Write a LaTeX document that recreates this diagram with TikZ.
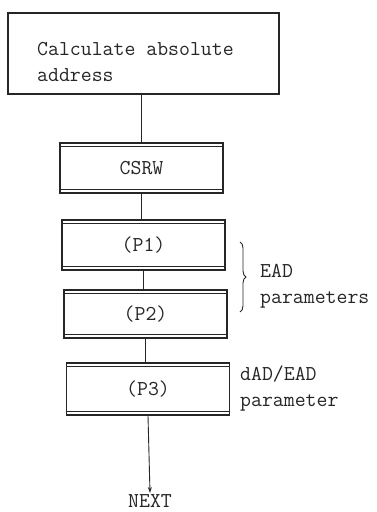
\documentclass[tikz,border=0pt]{standalone}
\usetikzlibrary{arrows.meta,decorations.pathreplacing}
\definecolor{ink}{gray}{0.15}
\begin{document}
\begin{tikzpicture}[x=1pt,y=-1pt,
  every node/.style={text=ink},
  txt/.style={font=\ttfamily\fontsize{21.2}{26}\selectfont},
  bigbox/.style={draw=ink,line width=1.6pt,minimum width=271pt,minimum height=81pt,inner sep=0pt},
  subbox/.style={draw=ink,line width=1.5pt,minimum width=163pt,minimum height=50pt,inner sep=0pt,txt,
    path picture={
      \draw[ink,line width=1pt] ([yshift=-3.5pt]path picture bounding box.north west) -- ([yshift=-3.5pt]path picture bounding box.north east);
      \draw[ink,line width=1pt] ([yshift=3.5pt]path picture bounding box.south west) -- ([yshift=3.5pt]path picture bounding box.south east);
    }},
  conn/.style={draw=ink,line width=0.9pt},
  brc/.style={draw=ink,line width=0.9pt,decorate,decoration={brace,amplitude=6pt}}
]
\useasboundingbox (0,0) rectangle (376,512);

\node[bigbox,anchor=north west] (calc) at (7,12) {};
\node[txt,anchor=north west,align=left,inner sep=0pt] (calctext) at (37,42) {Calculate absolute\\address};

\node[subbox] (csrw) at (141.5,168) {CSRW};
\node[subbox] (p1) at (143.5,245) {(P1)};
\node[subbox,minimum height=48pt] (p2) at (145.5,314) {(P2)};
\node[subbox,minimum height=52pt] (p3) at (148,389) {(P3)};

\node[txt,anchor=north,inner sep=1.5pt] (next) at (150,493) {NEXT};

\draw[conn] (calc.south -| csrw.north) -- (csrw.north);
\draw[conn] (csrw.south) -- (csrw.south |- p1.north);
\draw[conn] (p1.south) -- (p1.south |- p2.north);
\draw[conn] (p2.south) -- (p2.south |- p3.north);
\draw[conn,-{Stealth[length=6pt,width=4pt]}] (p3.south) -- (next.north);

\coordinate (bt) at (240,242);
\coordinate (bb) at (240,312);
\draw[brc] (bt) -- (bb);

\node[txt,anchor=north west,align=left,inner sep=0pt] (ead) at (260,264) {EAD\\parameters};
\node[txt,anchor=north west,align=left,inner sep=0pt] (dad) at (240,366) {dAD/EAD\\parameter};
\end{tikzpicture}
\end{document}
